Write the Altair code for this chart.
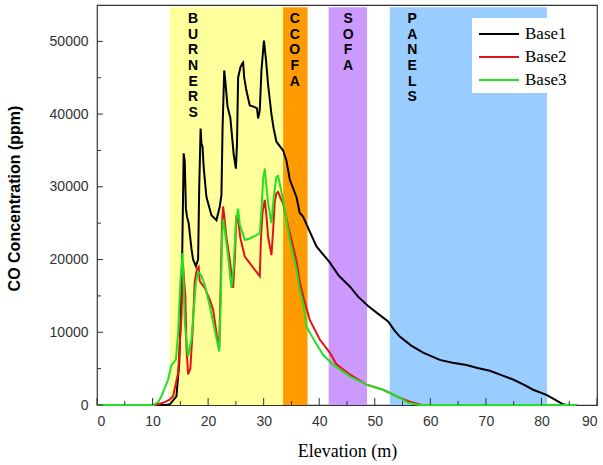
import altair as alt
import pandas as pd

# ---------------- data ----------------
base1_x = [0, 12.5, 13.1, 14.3, 14.8, 15.1, 15.35, 15.6, 15.8, 16.0, 16.2, 16.5, 17.0, 17.3, 17.8, 18.2, 18.4, 18.65,
           18.8, 19.0, 19.2, 19.7, 20.6, 21.5, 22.1, 22.4, 22.6, 22.9, 23.1, 23.5, 24.0, 24.6, 25.0, 25.2, 25.4, 25.8,
           26.1, 26.3, 26.5, 26.9, 27.5, 28.3, 28.8, 29.0, 29.3, 29.6, 30.05, 30.4, 30.8, 31.4, 31.8, 32.3, 33.0, 33.5,
           34.1, 34.7, 35.9, 36.5, 37.1, 38.2, 39.5, 41.9, 43.5, 45.5, 47.0, 48.8, 50.5, 52.4, 53.5, 54.5, 56.5, 58.7,
           61.7, 64.0, 66.5, 68.5, 70.7, 72.8, 74.9, 76.8, 78.5, 80.9, 82.5, 83.9, 84.6, 86.3]
base1_y = [0, 0, 100, 1200, 5800, 13000, 21300, 34600, 33500, 27000, 25900, 25000, 21500, 20000, 19100, 20000, 30000,
           38000, 36000, 35500, 32700, 28600, 26100, 25400, 27300, 28900, 38000, 46000, 44500, 41000, 39500, 34500,
           32500, 36000, 45000, 46400, 46900, 47100, 45000, 43200, 41200, 41000, 40800, 39400, 40500, 46000, 50100,
           47600, 44000, 40000, 38000, 36200, 35500, 35000, 33600, 31000, 28600, 26400, 25900, 24000, 21800, 19600,
           17800, 16300, 14900, 13600, 12600, 11500, 10300, 9400, 8200, 7200, 6200, 5800, 5500, 5100, 4700, 4100,
           3500, 2800, 2100, 1400, 700, 100, 0, 0]

base2_x = [0, 10.5, 11.9, 13.0, 13.7, 14.6, 15.2, 15.5, 15.9, 16.1, 16.4, 16.8, 17.2, 17.6, 18.0, 18.3, 18.5, 19.4,
           20.3, 20.9, 21.4, 21.8, 22.0, 22.3, 22.5, 22.7, 22.9, 23.3, 23.9, 24.5, 24.8, 25.1, 25.4, 25.8, 26.6, 27.5,
           28.7, 29.3, 29.5, 29.8, 30.2, 30.5, 30.8, 31.4, 31.7, 32.0, 32.3, 32.6, 33.0, 33.5, 34.7, 35.9, 36.5, 37.1,
           38.3, 40.1, 41.9, 43.1, 45.5, 48.5, 51.5, 54.5, 56.5, 58.5, 62.0]
base2_y = [0, 0, 300, 700, 1200, 4400, 12200, 19000, 15000, 8000, 4200, 5000, 10000, 17000, 18700, 19000, 17000,
           16100, 14500, 13100, 10500, 8300, 7800, 18000, 25000, 27300, 26000, 23000, 20000, 16100, 20000, 26100,
           25500, 23000, 20400, 19500, 18300, 17700, 22700, 26500, 28200, 26000, 23100, 20600, 24000, 28000, 29100,
           29300, 28500, 27700, 23600, 19900, 16900, 15000, 11700, 9000, 7200, 5600, 4200, 2800, 2100, 1000, 400, 0, 0]

base3_x = [0, 10.1, 11.0, 11.6, 12.8, 13.4, 14.2, 14.6, 15.0, 15.4, 15.6, 15.8, 16.4, 17.0, 17.8, 18.2, 18.8, 19.4,
           20.3, 21.5, 22.0, 22.3, 22.5, 22.7, 23.0, 23.6, 24.2, 24.6, 25.0, 25.4, 25.7, 26.6, 27.5, 29.3, 29.6, 29.9,
           30.2, 30.5, 30.8, 31.4, 31.8, 32.3, 32.6, 33.0, 33.5, 34.7, 35.9, 36.5, 37.1, 37.7, 39.2, 40.7, 42.5, 45.5,
           48.5, 51.5, 54.5, 56.0, 58.0, 86.3]
base3_y = [0, 0, 400, 1200, 3500, 5500, 6200, 9900, 16800, 20900, 17000, 11300, 6700, 9000, 16800, 18300, 17800,
           16500, 13600, 9200, 7400, 15000, 23000, 25500, 24000, 20400, 16100, 19000, 25000, 27000, 24800, 22700,
           22900, 23600, 26800, 31000, 32500, 30000, 27700, 25000, 28500, 31400, 31500, 30000, 28200, 22700, 18600,
           15800, 14000, 10800, 8750, 6900, 5550, 3950, 2800, 2100, 1000, 300, 0, 0]

series_names = ["Base1", "Base2", "Base3"]
series_colors = ["#000000", "#E3131B", "#22E022"]

band_start = [13.1, 33.5, 41.7, 52.7]
band_end = [33.5, 37.9, 48.6, 81.0]
band_fill = ["#FFFF9C", "#FF9A00", "#CC99FF", "#99CCFF"]
band_labels = ["BURNERS", "CCOFA", "SOFA", "PANELS"]
band_label_x = [17.3, 35.6, 45.2, 56.75]

x_major = list(range(0, 91, 10))
x_minor = list(range(5, 90, 10))
y_major = list(range(0, 50001, 10000))
y_minor = list(range(5000, 55000, 10000))

# ---------------- frames ----------------
rows = []
for name, xs_, ys_ in [("Base1", base1_x, base1_y), ("Base2", base2_x, base2_y), ("Base3", base3_x, base3_y)]:
    for i, (xv, yv) in enumerate(zip(xs_, ys_)):
        rows.append({"series": name, "elev": xv, "ppm": yv, "i": i})
lines_df = pd.DataFrame(rows)

bands_df = pd.DataFrame({"x1": band_start, "x2": band_end, "fill": band_fill,
                         "y1": [0] * 4, "y2": [54700] * 4})
labels_df = pd.DataFrame({"x": band_label_x, "y": [54000] * 4,
                          "text": ["\n".join(list(s)) for s in band_labels]})

xs = alt.Scale(domain=[0, 90], nice=False, zero=False)
ys = alt.Scale(domain=[0, 55000], nice=False, zero=False)

bands = alt.Chart(bands_df).mark_rect().encode(
    x=alt.X("x1:Q", scale=xs, axis=alt.Axis(
        values=x_major, ticks=False, grid=False, domain=False, labelFontSize=14,
        labelFont="Liberation Sans", labelColor="#333333", labelPadding=9,
        title="Elevation (m)", titleFont="Liberation Serif", titleFontSize=18,
        titleFontWeight="normal", titleColor="#000000", titleY=46, titleBaseline="middle")),
    x2="x2:Q",
    y=alt.Y("y1:Q", scale=ys, axis=alt.Axis(
        values=y_major, format="d", ticks=False, grid=False, domain=False, labelFontSize=14,
        labelFont="Liberation Sans", labelColor="#333333", labelPadding=9,
        title="CO Concentration (ppm)", titleFont="Liberation Sans", titleFontSize=16,
        titleFontWeight="bold", titleColor="#000000", titleX=-83, titleY=193,
        titleBaseline="middle", titleAngle=-90, titleAlign="center")),
    y2="y2:Q",
    color=alt.Color("fill:N", scale=None),
)

labels = alt.Chart(labels_df).mark_text(
    lineBreak="\n", baseline="top", align="center", fontWeight="bold", fontSize=14,
    font="Liberation Sans", lineHeight=15.6, color="#000000"
).encode(x=alt.X("x:Q", scale=xs), y=alt.Y("y:Q", scale=ys), text="text:N")

lines = alt.Chart(lines_df).mark_line(strokeWidth=2, interpolate="linear").encode(
    x=alt.X("elev:Q", scale=xs),
    y=alt.Y("ppm:Q", scale=ys),
    color=alt.Color("series:N", scale=alt.Scale(domain=series_names, range=series_colors),
                    legend=alt.Legend(orient="none", legendX=375, legendY=13, title=None,
                                      fillColor="#FFFFFF", padding=5,
                                      symbolType="M-2,0H2", symbolSize=400,
                                      symbolStrokeWidth=2, symbolOffset=11,
                                      labelFont="Liberation Serif", labelFontSize=17,
                                      labelColor="#000000", rowPadding=4, labelOffset=15)),
    order="i:Q",
)

xt_major = alt.Chart(pd.DataFrame({"v": x_major})).mark_rule(color="#333333").encode(
    x=alt.X("v:Q", scale=xs), y=alt.value(400), y2=alt.value(393))
xt_minor = alt.Chart(pd.DataFrame({"v": x_minor})).mark_rule(color="#333333").encode(
    x=alt.X("v:Q", scale=xs), y=alt.value(400), y2=alt.value(396))
yt_major = alt.Chart(pd.DataFrame({"v": y_major})).mark_rule(color="#333333").encode(
    y=alt.Y("v:Q", scale=ys), x=alt.value(0), x2=alt.value(6))
yt_minor = alt.Chart(pd.DataFrame({"v": y_minor})).mark_rule(color="#333333").encode(
    y=alt.Y("v:Q", scale=ys), x=alt.value(0), x2=alt.value(4))

chart = alt.layer(bands, labels, lines, xt_major, xt_minor, yt_major, yt_minor).properties(
    width=500, height=400, autosize="none",
    padding={"left": 97, "top": 5, "right": 6, "bottom": 60},
    background="#FFFFFF",
).configure_view(stroke="#333333", strokeWidth=1.2)

chart.save("out.html", embed_options={"renderer": "svg", "actions": False})
